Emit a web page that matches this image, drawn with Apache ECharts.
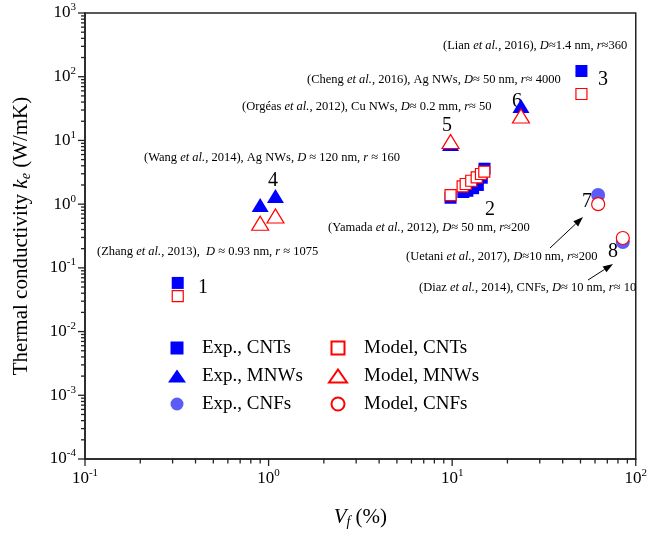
<!DOCTYPE html>
<html><head><meta charset="utf-8">
<script src="https://cdn.jsdelivr.net/npm/echarts@6/dist/echarts.min.js"></script>
<style>html,body{margin:0;padding:0;background:#fff}#c{width:650px;height:541px}</style>
</head><body><div id="c"></div>
<script>
// ---- data ----
const expCNT_x = [0.32, 9.8, 11.5, 12.1, 13.0, 13.8, 14.5, 15.0, 50.6];
const expCNT_y = [0.058, 1.26, 1.55, 1.62, 1.78, 2.0, 2.6, 3.6, 123];
const modelCNT_x = [0.32, 9.8, 11.4, 11.85, 12.7, 13.6, 14.35, 14.96, 50.6];
const modelCNT_y = [0.036, 1.39, 1.90, 2.07, 2.33, 2.63, 2.97, 3.23, 53.5];
const expMNW_x = [0.90, 1.09, 9.8, 23.7];
const expMNW_y = [0.97, 1.34, 8.8, 34.7];
const modelMNW_x = [0.90, 1.09, 9.8, 23.7];
const modelMNW_y = [0.50, 0.65, 9.6, 24.2];
const expCNF_x = [62.4, 85];
const expCNF_y = [1.39, 0.254];
const modelCNF_x = [62.4, 85];
const modelCNF_y = [1.0, 0.294];
const xTicks = [0.1, 1, 10, 100];
const yTicks = [1e-4, 1e-3, 1e-2, 1e-1, 1, 10, 100, 1000];
const legendExp = ['Exp., CNTs', 'Exp., MNWs', 'Exp., CNFs'];
const legendModel = ['Model, CNTs', 'Model, MNWs', 'Model, CNFs'];
const notes = [
  '(Lian {i|et al.}, 2016), {i|D}≈1.4 nm, {i|r}≈360',
  '(Cheng {i|et al.}, 2016), Ag NWs, {i|D}≈ 50 nm, {i|r}≈ 4000',
  '(Orgéas {i|et al.}, 2012), Cu NWs, {i|D}≈ 0.2 mm, {i|r}≈ 50',
  '(Wang {i|et al.}, 2014), Ag NWs, {i|D} ≈ 120 nm, {i|r} ≈ 160',
  '(Zhang {i|et al.}, 2013),  {i|D} ≈ 0.93 nm, {i|r} ≈ 1075',
  '(Yamada {i|et al.}, 2012), {i|D}≈ 50 nm, {i|r}≈200',
  '(Uetani {i|et al.}, 2017), {i|D}≈10 nm, {i|r}≈200',
  '(Diaz {i|et al.}, 2014), CNFs, {i|D}≈ 10 nm, {i|r}≈ 10'
];
const groupLabels = ['1', '2', '3', '4', '5', '6', '7', '8'];

// ---- helpers ----
const FONT = '"Liberation Serif", "Times New Roman", serif';
const zip = (a, b) => a.map((v, i) => [v, b[i]]);
function minorTicks(list) {
  const out = [];
  for (let k = 0; k < list.length - 1; k++) for (let m = 2; m <= 9; m++) out.push(+(list[k] * m).toPrecision(3));
  return out;
}
const X_MIN = xTicks[0], X_MAX = xTicks[xTicks.length - 1];
const Y_MIN = yTicks[0], Y_MAX = yTicks[yTicks.length - 1];
const fmt = v => '{b|10}{s|' + Math.round(Math.log10(v)) + '}';
const tickRich = {
  b: {fontFamily: FONT, fontSize: 17, lineHeight: 22, color: '#000'},
  s: {fontFamily: FONT, fontSize: 11, lineHeight: 12, verticalAlign: 'top', color: '#000'}
};

// annotation layout (pixels)
const notePos = [[443,46],[307,80],[242,107],[144,158],[97,252],[328,228],[406,257],[419,288]];
const numPos = [[203,288],[490,210],[603,80],[273,181],[447,126],[517,102],[587,202],[613,252]];

const graphics = [];
notes.forEach((t, i) => graphics.push({
  type: 'text', x: notePos[i][0], y: notePos[i][1], silent: true,
  style: {text: t, fill: '#000', fontFamily: FONT, fontSize: 12.5, align: 'left', verticalAlign: 'middle',
    textAlign: 'left', textVerticalAlign: 'middle',
    rich: {i: {fontFamily: FONT, fontSize: 12.5, fontStyle: 'italic', fill: '#000'}}}
}));
groupLabels.forEach((t, i) => graphics.push({
  type: 'text', x: numPos[i][0], y: numPos[i][1], silent: true,
  style: {text: t, fill: '#000', fontFamily: FONT, fontSize: 20, align: 'center', verticalAlign: 'middle',
    textAlign: 'center', textVerticalAlign: 'middle'}
}));
function arrow(x1, y1, x2, y2) {
  const L = 10, W = 3.5;
  const dx = x2 - x1, dy = y2 - y1, d = Math.hypot(dx, dy);
  const ux = dx / d, uy = dy / d;
  const bx = x2 - ux * L, by = y2 - uy * L;
  graphics.push({type: 'line', silent: true, shape: {x1, y1, x2: bx, y2: by}, style: {stroke: '#000', lineWidth: 1}});
  graphics.push({type: 'polygon', silent: true,
    shape: {points: [[x2, y2], [bx - uy * W, by + ux * W], [bx + uy * W, by - ux * W]]},
    style: {fill: '#000'}});
}
arrow(550, 248, 583, 217);
arrow(588, 280, 613, 264);

const chart = echarts.init(document.getElementById('c'), null, {renderer: 'canvas'});
const modelStyle = {color: '#ffffff', borderColor: '#ff0000', borderWidth: 1.2, opacity: 1};
const titleRich = {
  i: {fontFamily: FONT, fontSize: 21, fontStyle: 'italic', lineHeight: 24, color: '#000'},
  sub: {fontFamily: FONT, fontSize: 14, fontStyle: 'italic', lineHeight: 12, verticalAlign: 'bottom', color: '#000'},
  n: {fontFamily: FONT, fontSize: 21, lineHeight: 24, color: '#000'}};

// tick marks drawn as tiny bars through the axis scales
function tickSeries(values, isX, len) {
  return {
    type: 'scatter', silent: true, clip: false, z: 5, animation: false,
    symbol: 'rect',
    symbolSize: isX ? [1.3, len] : [len, 1.3],
    symbolOffset: isX ? [0, len / 2] : [-len / 2, 0],
    itemStyle: {color: '#222', opacity: 1},
    emphasis: {disabled: true},
    data: values.map(v => isX ? [v, Y_MIN] : [X_MIN, v])
  };
}
const SQ = 'path://M0,0H12V12H0Z';
const TRI = 'path://M0,13L9,0L18,13Z';

const option = {
  animation: false,
  backgroundColor: '#fff',
  grid: {left: 85, top: 13, right: 9, bottom: 82, show: true, borderColor: '#222', borderWidth: 1.5, backgroundColor: 'transparent'},
  xAxis: {
    type: 'log', logBase: 10, min: X_MIN, max: X_MAX, position: 'bottom',
    name: '{i|V}{sub|f}{n| (%)}', nameLocation: 'middle', nameGap: 46,
    nameTextStyle: {rich: titleRich},
    axisLine: {show: true, lineStyle: {color: '#222', width: 1.5}},
    axisTick: {show: false},
    axisLabel: {show: true, margin: 9, formatter: fmt, rich: tickRich, customValues: xTicks},
    splitLine: {show: false}, minorTick: {show: false}
  },
  yAxis: {
    type: 'log', logBase: 10, min: Y_MIN, max: Y_MAX, position: 'left',
    name: '{n|Thermal conductivity }{i|k}{sub|e}{n| (W/mK)}', nameLocation: 'middle', nameGap: 52,
    nameTextStyle: {rich: titleRich},
    axisLine: {show: true, lineStyle: {color: '#222', width: 1.5}},
    axisTick: {show: false},
    axisLabel: {show: true, margin: 9, formatter: fmt, rich: tickRich, customValues: yTicks},
    splitLine: {show: false}, minorTick: {show: false}
  },
  legend: [{
    orient: 'vertical', left: 163, top: 333, itemWidth: 18, itemHeight: 13, itemGap: 8,
    selectedMode: false, symbolKeepAspect: true,
    textStyle: {fontFamily: FONT, fontSize: 19, lineHeight: 20, color: '#000', padding: [0, 0, 0, 11]},
    data: [{name: legendExp[0], icon: SQ}, {name: legendExp[1], icon: TRI}, {name: legendExp[2], icon: 'circle'}]
  }, {
    orient: 'vertical', left: 323, top: 333, itemWidth: 18, itemHeight: 13, itemGap: 8,
    selectedMode: false, symbolKeepAspect: true,
    textStyle: {fontFamily: FONT, fontSize: 19, lineHeight: 20, color: '#000', padding: [0, 0, 0, 12]},
    data: [{name: legendModel[0], icon: SQ}, {name: legendModel[1], icon: TRI}, {name: legendModel[2], icon: 'circle'}]
  }],
  graphic: graphics,
  series: [
    {name: legendExp[0], type: 'scatter', symbol: 'rect', symbolSize: 12, itemStyle: {color: '#0000ff', opacity: 1}, data: zip(expCNT_x, expCNT_y), z: 2},
    {name: legendExp[1], type: 'scatter', symbol: 'triangle', symbolSize: [17, 14], itemStyle: {color: '#0000ff', opacity: 1}, data: zip(expMNW_x, expMNW_y), z: 2},
    {name: legendExp[2], type: 'scatter', symbol: 'circle', symbolSize: 14, itemStyle: {color: '#5b5bf7', opacity: 1}, data: zip(expCNF_x, expCNF_y), z: 2},
    {name: legendModel[0], type: 'scatter', symbol: 'rect', symbolSize: 11, itemStyle: modelStyle, data: zip(modelCNT_x, modelCNT_y), z: 3},
    {name: legendModel[1], type: 'scatter', symbol: 'triangle', symbolSize: [17, 14], itemStyle: modelStyle, data: zip(modelMNW_x, modelMNW_y), z: 3},
    {name: legendModel[2], type: 'scatter', symbol: 'circle', symbolSize: 13, itemStyle: modelStyle, data: zip(modelCNF_x, modelCNF_y), z: 3},
    tickSeries(xTicks, true, 7),
    tickSeries(minorTicks(xTicks), true, 4.5),
    tickSeries(yTicks, false, 7),
    tickSeries(minorTicks(yTicks), false, 4)
  ]
};
chart.setOption(option);
</script></body></html>
